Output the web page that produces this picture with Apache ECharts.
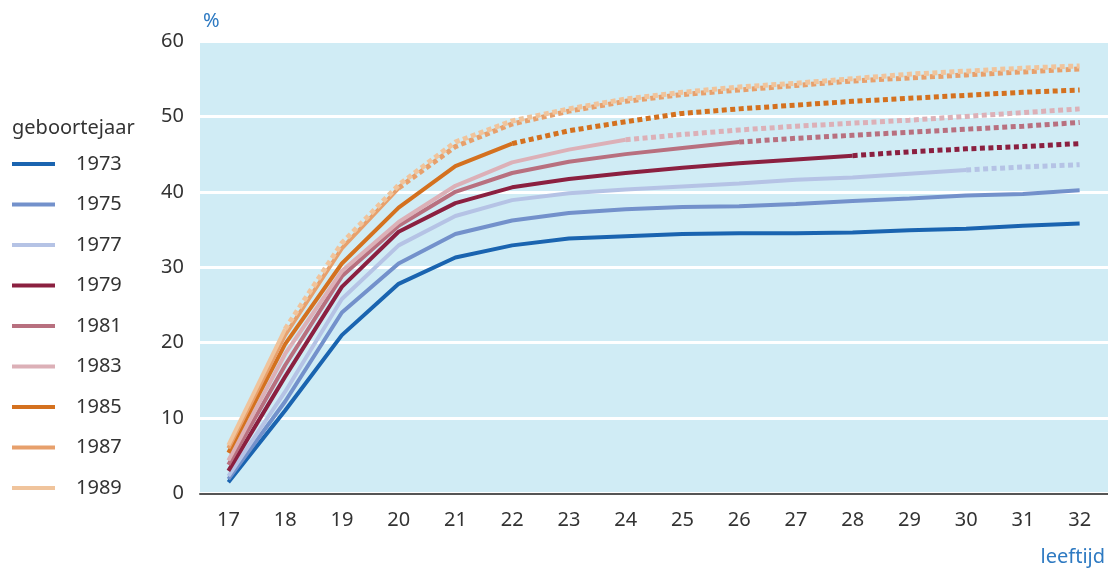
<!DOCTYPE html>
<html>
<head>
<meta charset="utf-8">
<script src="https://cdn.jsdelivr.net/npm/echarts@6/dist/echarts.min.js"></script>
<style>html,body{margin:0;padding:0;background:#fff}#c{width:1108px;height:568px}</style>
</head>
<body>
<div id="c"></div>
<script>
const ages = ['17','18','19','20','21','22','23','24','25','26','27','28','29','30','31','32'];
const cohorts = ['1973','1975','1977','1979','1981','1983','1985','1987','1989'];
// index of last observed age (solid); later ages are projections (dotted)
const lastObserved = [15, 15, 13, 11, 9, 7, 5, 3, 1];
const c1973 = [1.5, 11.0, 21.0, 27.8, 31.3, 32.9, 33.8, 34.1, 34.4, 34.5, 34.5, 34.6, 34.9, 35.1, 35.5, 35.8];
const c1975 = [1.9, 12.2, 24.0, 30.5, 34.4, 36.2, 37.2, 37.7, 38.0, 38.1, 38.4, 38.8, 39.1, 39.5, 39.7, 40.2];
const c1977 = [2.3, 13.5, 25.8, 32.9, 36.8, 38.9, 39.8, 40.3, 40.7, 41.1, 41.6, 41.9, 42.4, 42.9, 43.3, 43.6];
const c1979 = [3.0, 15.5, 27.4, 34.7, 38.5, 40.6, 41.7, 42.5, 43.2, 43.8, 44.3, 44.8, 45.3, 45.7, 46.0, 46.4];
const c1981 = [3.8, 17.0, 28.8, 35.5, 40.0, 42.5, 44.0, 45.0, 45.8, 46.6, 47.1, 47.5, 47.9, 48.3, 48.7, 49.2];
const c1983 = [4.4, 18.5, 29.5, 36.0, 40.8, 43.9, 45.6, 46.9, 47.6, 48.2, 48.7, 49.1, 49.5, 50.0, 50.5, 51.0];
const c1985 = [5.4, 19.8, 30.5, 37.9, 43.4, 46.4, 48.1, 49.3, 50.4, 51.0, 51.5, 52.0, 52.4, 52.8, 53.2, 53.5];
const c1987 = [6.0, 21.0, 32.5, 40.5, 46.0, 49.0, 50.7, 52.0, 52.9, 53.5, 54.1, 54.7, 55.1, 55.5, 55.9, 56.3];
const c1989 = [6.4, 21.8, 33.2, 40.9, 46.6, 49.4, 51.0, 52.3, 53.2, 53.9, 54.4, 55.0, 55.6, 56.0, 56.4, 56.7];
const values = [c1973, c1975, c1977, c1979, c1981, c1983, c1985, c1987, c1989];
const colors = ['#1a64b0','#7391cb','#b5c3e5','#8b2040','#b8707f','#dcb0b7','#d4711f','#e7a06c','#f0c49c'];

const series = [];
cohorts.forEach((name, i) => {
  const v = values[i], k = lastObserved[i];
  series.push({
    name: name, type: 'line', symbol: 'none', z: 2 + i,
    data: v.map((d, j) => j <= k ? d : null),
    lineStyle: {color: colors[i], width: 4},
    itemStyle: {color: colors[i]}
  });
  if (k < v.length - 1) {
    series.push({
      name: name + ' prognose', type: 'line', symbol: 'none', z: 2 + i,
      data: v.map((d, j) => j >= k ? d : null),
      lineStyle: {color: colors[i], width: 5, type: [5, 3.5], cap: 'butt'},
      itemStyle: {color: colors[i]}
    });
  }
});

const chart = echarts.init(document.getElementById('c'), null, {renderer: 'canvas'});
const font = 'Noto Sans';
chart.setOption({
  animation: false,
  color: colors,
  textStyle: {fontFamily: font},
  title: [
    {text: '%', left: 198, top: 6, textStyle: {fontFamily: font, fontSize: 20, fontWeight: 'normal', color: '#2e7ac2'}},
    {text: 'leeftijd', right: 3, top: 547, padding: 0, textStyle: {fontFamily: font, fontSize: 20, fontWeight: 'normal', color: '#2e7ac2'}},
    {text: 'geboortejaar', left: 7, top: 113, textStyle: {fontFamily: font, fontSize: 20, fontWeight: 'normal', color: '#333'}}
  ],
  legend: {
    data: cohorts,
    orient: 'vertical', left: 12, top: 152, padding: 0,
    icon: 'rect', itemWidth: 43, itemHeight: 4, itemGap: 16.5,
    textStyle: {fontFamily: font, fontSize: 20, color: '#333', lineHeight: 24, padding: [0, 0, 0, 16]}
  },
  grid: {left: 200, right: 0, top: 41, bottom: 74.5, show: true, backgroundColor: '#d0ecf5', borderWidth: 0},
  xAxis: {
    type: 'category', data: ages, boundaryGap: true,
    axisLine: {lineStyle: {color: '#555', width: 2}},
    axisTick: {show: false},
    axisLabel: {fontFamily: font, fontSize: 20, color: '#333', margin: 17},
    splitLine: {show: false}
  },
  yAxis: {
    type: 'value', min: 0, max: 60, interval: 10,
    axisLine: {show: false}, axisTick: {show: false},
    axisLabel: {fontFamily: font, fontSize: 20, color: '#333', margin: 16},
    splitLine: {lineStyle: {color: '#ffffff', width: 3}}
  },
  series: series
});
</script>
</body>
</html>
